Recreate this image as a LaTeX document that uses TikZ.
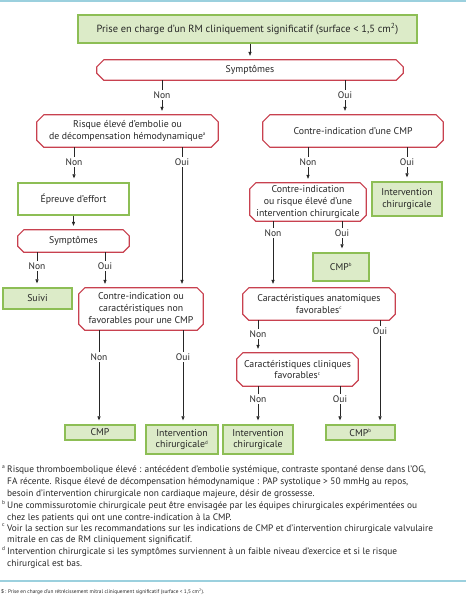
\documentclass[tikz,border=0pt]{standalone}
\usepackage{fontspec}
\setmainfont{PT Sans}
\usetikzlibrary{arrows.meta}
\definecolor{gborder}{HTML}{8DBE55}
\definecolor{gfill}{HTML}{DCEBC8}
\definecolor{rborder}{HTML}{C8414F}
\definecolor{bline}{HTML}{9BD0DE}
\definecolor{txt}{HTML}{262626}
\newcommand{\supx}[1]{\textsuperscript{\fontsize{5}{5}\selectfont #1}}
\begin{document}
\begin{tikzpicture}[x=1pt,y=-1pt,
  every node/.style={text=txt},
  boxfont/.style={font=\fontsize{9.8}{11.8}\selectfont},
  gbox/.style={boxfont, draw=gborder, line width=1.4pt, fill=gfill, inner sep=0pt, align=center},
  wbox/.style={boxfont, draw=gborder, line width=1.4pt, fill=white, inner sep=0pt, align=center},
  rbox/.style={boxfont, inner sep=0pt, align=center},
  lab/.style={font=\fontsize{9.5}{10}\selectfont, inner sep=1.6pt},
  conn/.style={draw=black!85, line width=0.6pt},
  arr/.style={conn, -{Triangle[length=4pt,width=3.2pt]}, shorten >=4pt},
  fn/.style={font=\fontsize{9.35}{11.55}\selectfont, inner sep=0pt, anchor=north west, align=left},
  fnmark/.style={font=\fontsize{5.5}{6}\selectfont, inner sep=0pt, anchor=north west}
]
\useasboundingbox (0,0) rectangle (466,600);
\draw[bline, line width=1.5pt] (0,1) -- (466,1);
\draw[bline, line width=1.8pt] (0,581) -- (466,581);

% boxes
\node[gbox, minimum width=339pt, minimum height=28pt, font=\fontsize{10.4}{12}\selectfont] (title) at (247.5,29) {Prise en charge d'un RM cliniquement significatif (surface < 1,5 cm\textsuperscript{2})};
\node[rbox, minimum width=306pt, minimum height=20pt] (sym1) at (250,70) {Symptômes};
\node[rbox, minimum width=181pt, minimum height=32pt] (risk) at (127.5,131) {Risque élevé d'embolie ou\\de décompensation hémodynamique\supx{a}};
\node[rbox, minimum width=180pt, minimum height=32pt] (cmp1) at (353,131) {Contre-indication d'une CMP};
\node[wbox, minimum width=111pt, minimum height=32pt] (epreuve) at (73.5,199) {Épreuve d'effort};
\node[rbox, minimum width=111pt, minimum height=22pt] (sym2) at (73.5,241) {Symptômes};
\node[gbox, minimum width=69pt, minimum height=21pt] (suivi) at (37.5,298.5) {Suivi};
\node[rbox, minimum width=124pt, minimum height=42pt] (cnf) at (141,309) {Contre-indication ou\\caractéristiques non\\favorables pour une CMP};
\node[rbox, minimum width=116pt, minimum height=38pt] (cirisk) at (308,202) {Contre-indication\\ou risque élevé d'une\\intervention chirurgicale};
\node[gbox, minimum width=70pt, minimum height=34pt] (ic1) at (407,199) {Intervention\\chirurgicale};
\node[gbox, minimum width=56pt, minimum height=28pt] (cmpb1) at (341,267) {CMP\supx{b}};
\node[rbox, minimum width=152pt, minimum height=32pt] (anat) at (319,304) {Caractéristiques anatomiques\\favorables\supx{c}};
\node[rbox, minimum width=121pt, minimum height=33pt] (clin) at (297.5,369.5) {Caractéristiques cliniques\\favorables\supx{c}};
\node[gbox, minimum width=70pt, minimum height=15pt] (cmp2) at (100,432.5) {CMP};
\node[gbox, minimum width=72pt, minimum height=29pt] (icd) at (182,439.5) {Intervention\\chirurgicale\supx{d}};
\node[gbox, minimum width=70pt, minimum height=29pt] (ic2) at (258,439.5) {Intervention\\chirurgicale};
\node[gbox, minimum width=69pt, minimum height=15pt] (cmpb2) at (360.5,432.5) {CMP\supx{b}};

% chamfered red outlines
\foreach \n/\c in {sym1/7,risk/7,cmp1/7,sym2/6,cnf/6,cirisk/6,anat/6,clin/6}{
  \draw[rborder, line width=1.2pt]
    ([xshift=\c pt]\n.north west) -- ([xshift=-\c pt]\n.north east)
    -- ([yshift=-\c pt]\n.north east) -- ([yshift=\c pt]\n.south east)
    -- ([xshift=-\c pt]\n.south east) -- ([xshift=\c pt]\n.south west)
    -- ([yshift=\c pt]\n.south west) -- ([yshift=-\c pt]\n.north west) -- cycle;
}

% labels
\node[lab] (l1) at (162,95) {Non};
\node[lab] (l2) at (345,95) {Oui};
\node[lab] (l3) at (74,162) {Non};
\node[lab] (l4) at (182,162) {Oui};
\node[lab] (l5) at (308,162) {Non};
\node[lab] (l6) at (407,162) {Oui};
\node[lab] (l7) at (37,266) {Non};
\node[lab] (l8) at (105,266) {Oui};
\node[lab] (l9) at (273,233) {Non};
\node[lab] (l10) at (342,233) {Oui};
\node[lab] (l11) at (99,357) {Non};
\node[lab] (l12) at (183,357) {Oui};
\node[lab] (l13) at (258,334) {Non};
\node[lab] (l14) at (380,331) {Oui};
\node[lab] (l15) at (258,399) {Non};
\node[lab] (l16) at (340,399) {Oui};

% connectors
\draw[arr] (title.south -| sym1) -- (sym1.north);
\draw[arr] (epreuve.south) -- (sym2.north);
\foreach \s/\l/\t in {sym1/l1/risk, sym1/l2/cmp1, risk/l3/epreuve, risk/l4/cnf,
  cmp1/l5/cirisk, cmp1/l6/ic1, sym2/l7/suivi, sym2/l8/cnf, cirisk/l9/anat,
  cirisk/l10/cmpb1, cnf/l11/cmp2, cnf/l12/icd, anat/l13/clin, anat/l14/cmpb2,
  clin/l15/ic2, clin/l16/cmpb2}{
  \draw[conn] (\s.south -| \l) -- (\l.north);
  \draw[arr] (\l.south) -- (\t.north -| \l);
}

% footnotes
\node[fnmark] (ma) at (2,465) {a};
\node[fn] (fa) at (7,466) {Risque thromboembolique élevé : antécédent d'embolie systémique, contraste spontané dense dans l'OG,\\FA récente. Risque élevé de décompensation hémodynamique : PAP systolique > 50 mmHg au repos,\\besoin d'intervention chirurgicale non cardiaque majeure, désir de grossesse.};
\node[fnmark] (mb) at (2,500.5) {b};
\node[fn] (fb) at (7,501.5) {Une commissurotomie chirurgicale peut être envisagée par les équipes chirurgicales expérimentées ou\\chez les patients qui ont une contre-indication à la CMP.};
\node[fnmark] (mc) at (2,523.5) {c};
\node[fn] (fc) at (7,524.5) {Voir la section sur les recommandations sur les indications de CMP et d'intervention chirurgicale valvulaire\\mitrale en cas de RM cliniquement significatif.};
\node[fnmark] (md) at (2,546.5) {d};
\node[fn] (fd) at (7,547.5) {Intervention chirurgicale si les symptômes surviennent à un faible niveau d'exercice et si le risque\\chirurgical est bas.};

% caption
\node[font=\fontsize{5.3}{6}\selectfont, inner sep=0pt, anchor=west] (cap) at (1,592) {\textbf{5}\,: Prise en charge d'un rétrécissement mitral cliniquement significatif (surface < 1,5 cm\textsuperscript{2}).};
\end{tikzpicture}
\end{document}
